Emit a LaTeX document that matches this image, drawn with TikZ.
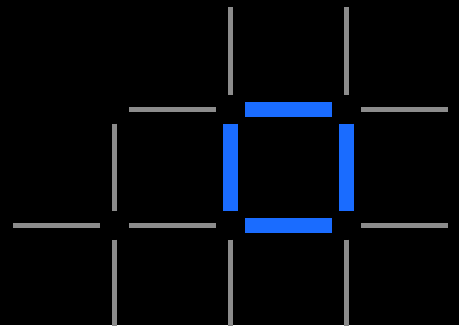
\documentclass[tikz,border=0pt]{standalone}
\usepackage{tikz}
\definecolor{stickgrey}{RGB}{140,140,140}
\definecolor{stickblue}{RGB}{26,108,255}

\begin{document}
\begin{tikzpicture}[x=116pt, y=-116pt,
		stick/.style={line width=5pt, stickgrey, shorten <=14.5pt, shorten >=14.5pt},
		square/.style={line width=15pt, stickblue, shorten <=14.5pt, shorten >=14.5pt}]
		% background
		\fill[black] (0.0129,0.0603) rectangle (3.9698,2.8621);
		\clip (0.0129,0.0603) rectangle (3.9698,2.8621);
		% grid points
		\foreach \c in {0,...,4} {
			\foreach \r in {0,...,3} {
				\coordinate (p\c\r) at (\c,\r);
			}
		}
		% grey sticks
		\foreach \a/\b in {p20/p21, p30/p31, p11/p21, p31/p41, p11/p12,
			p02/p12, p12/p22, p32/p42, p12/p13, p22/p23, p32/p33} {
			\draw[stick] (\a) -- (\b);
		}
		% blue square
		\foreach \a/\b in {p21/p31, p21/p22, p31/p32, p22/p32} {
			\draw[square] (\a) -- (\b);
		}
	\end{tikzpicture}
\end{document}
